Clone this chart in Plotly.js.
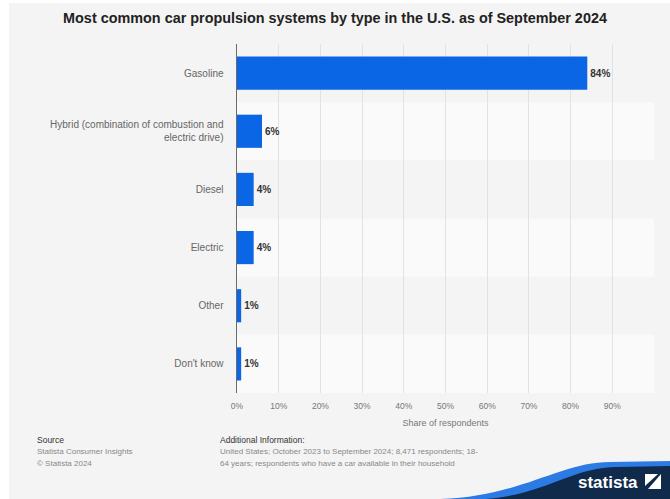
<!DOCTYPE html>
<html>
<head>
<meta charset="utf-8">
<script src="https://cdn.plot.ly/plotly-3.0.1.min.js"></script>
<style>html,body{margin:0;padding:0;background:#fff;}#chart{width:670px;height:499px;}</style>
</head>
<body>
<div id="chart"></div>
<script>
const categories = ["Gasoline", "Hybrid (combination of combustion and<br>electric drive)", "Diesel", "Electric", "Other", "Don't know"];
const shares = [84, 6, 4, 4, 1, 1];
const tickValues = [0, 10, 20, 30, 40, 50, 60, 70, 80, 90, 100];
const tickLabels = ["0%", "10%", "20%", "30%", "40%", "50%", "60%", "70%", "80%", "90%", ""];

const W = 670, H = 499;
const M = {l: 237, r: 16, t: 44, b: 106};
const PW = W - M.l - M.r, PH = H - M.t - M.b;
const X = px => (px - M.l) / PW;
const Y = py => (H - M.b - py) / PH;

const font = "Liberation Sans, Arial, Helvetica, sans-serif";

const shapes = [];
// white outer border
shapes.push({type:'rect', xref:'paper', yref:'paper', x0:X(0), x1:X(W), y0:Y(0), y1:Y(3), fillcolor:'#ffffff', line:{width:0}, layer:'above'});
shapes.push({type:'rect', xref:'paper', yref:'paper', x0:X(0), x1:X(9), y0:Y(H), y1:Y(0), fillcolor:'#ffffff', line:{width:0}, layer:'above'});
// alternating row bands
categories.forEach((c, i) => {
  if (i % 2 === 1) {
    shapes.push({type:'rect', xref:'paper', yref:'y', x0:0, x1:1, y0:i-0.5, y1:i+0.5, fillcolor:'#fafafa', line:{width:0}, layer:'below'});
  }
});
// logo wave
function path(cmds){ return cmds.map(c => c[0] + ' ' + c.slice(1).map((v,k)=> (k%2===0? X(v): Y(v)).toFixed(4)).join(',')).join(' ') + ' Z'; }
shapes.push({type:'path', xref:'paper', yref:'paper', layer:'above', line:{width:0}, fillcolor:'#2c7be5',
  path: path([['M',440,499],['C',520,497,560,462,610,462],['L',670,461],['L',670,499]])});
shapes.push({type:'path', xref:'paper', yref:'paper', layer:'above', line:{width:0}, fillcolor:'#0f2a4a',
  path: path([['M',485,499],['C',545,495,572,467,617,467],['L',670,466],['L',670,499]])});
// logo icon
shapes.push({type:'rect', xref:'paper', yref:'paper', layer:'above', line:{width:0}, fillcolor:'#ffffff', x0:X(645), x1:X(661), y0:Y(489), y1:Y(474)});
shapes.push({type:'path', xref:'paper', yref:'paper', layer:'above', line:{width:0}, fillcolor:'#0f2a4a',
  path: path([['M',645,486],['L',658,474],['L',661,474],['L',648,489],['L',645,489]])});

const annotations = [
  {text:'Source', x:X(35), y:Y(440), color:'#333', size:8.5},
  {text:'Statista Consumer Insights', x:X(35), y:Y(452), color:'#888', size:8},
  {text:'© Statista 2024', x:X(35), y:Y(463), color:'#888', size:8},
  {text:'Additional Information:', x:X(218), y:Y(440), color:'#333', size:8.5},
  {text:'United States; October 2023 to September 2024; 8,471 respondents; 18-', x:X(218), y:Y(452), color:'#888', size:8},
  {text:'64 years; respondents who have a car available in their household', x:X(218), y:Y(463), color:'#888', size:8}
].map(a => ({text:a.text, xref:'paper', yref:'paper', x:a.x, y:a.y, xanchor:'left', yanchor:'middle', showarrow:false, font:{family:font, size:a.size, color:a.color}}));
annotations.push({text:'<b>statista</b>', xref:'paper', yref:'paper', x:X(640), y:Y(482), xanchor:'right', yanchor:'middle', showarrow:false, font:{family:font, size:17, color:'#ffffff'}});

const data = [{
  type:'bar', orientation:'h', y:categories, x:shares,
  marker:{color:'#0a66e4'}, width:0.57,
  text: shares.map(v => '<b>' + v + '%</b>'), textposition:'outside', cliponaxis:false,
  textfont:{family:font, size:10, color:'#333'}, hoverinfo:'skip'
}];

const layout = {
  width:W, height:H, margin:M,
  paper_bgcolor:'#f4f4f4', plot_bgcolor:'#f4f4f4',
  title:{text:'<b>Most common car propulsion systems by type in the U.S. as of September 2024</b>', font:{family:font, size:14.4, color:'#222'}, x:0.5, xref:'container', xanchor:'center', y:1-18/H, yref:'container', yanchor:'middle'},
  xaxis:{range:[0,100], tickvals:tickValues, ticktext:tickLabels, showgrid:true, gridcolor:'#e2e2e2', gridwidth:1, zeroline:false, showline:false,
    tickfont:{family:font, size:8.5, color:'#777'}, ticks:'', ticklabelstandoff:6,
    title:{text:'Share of respondents', font:{family:font, size:9, color:'#777'}, standoff:10}, fixedrange:true},
  yaxis:{autorange:'reversed', showline:true, linecolor:'#6b6b6b', linewidth:1.5, showgrid:false, ticks:'', ticklabelstandoff:10,
    tickfont:{family:font, size:10, color:'#666'}, fixedrange:true},
  shapes:shapes, annotations:annotations, showlegend:false, bargap:0.43
};

Plotly.newPlot('chart', data, layout, {displayModeBar:false, staticPlot:true});
</script>
</body>
</html>
